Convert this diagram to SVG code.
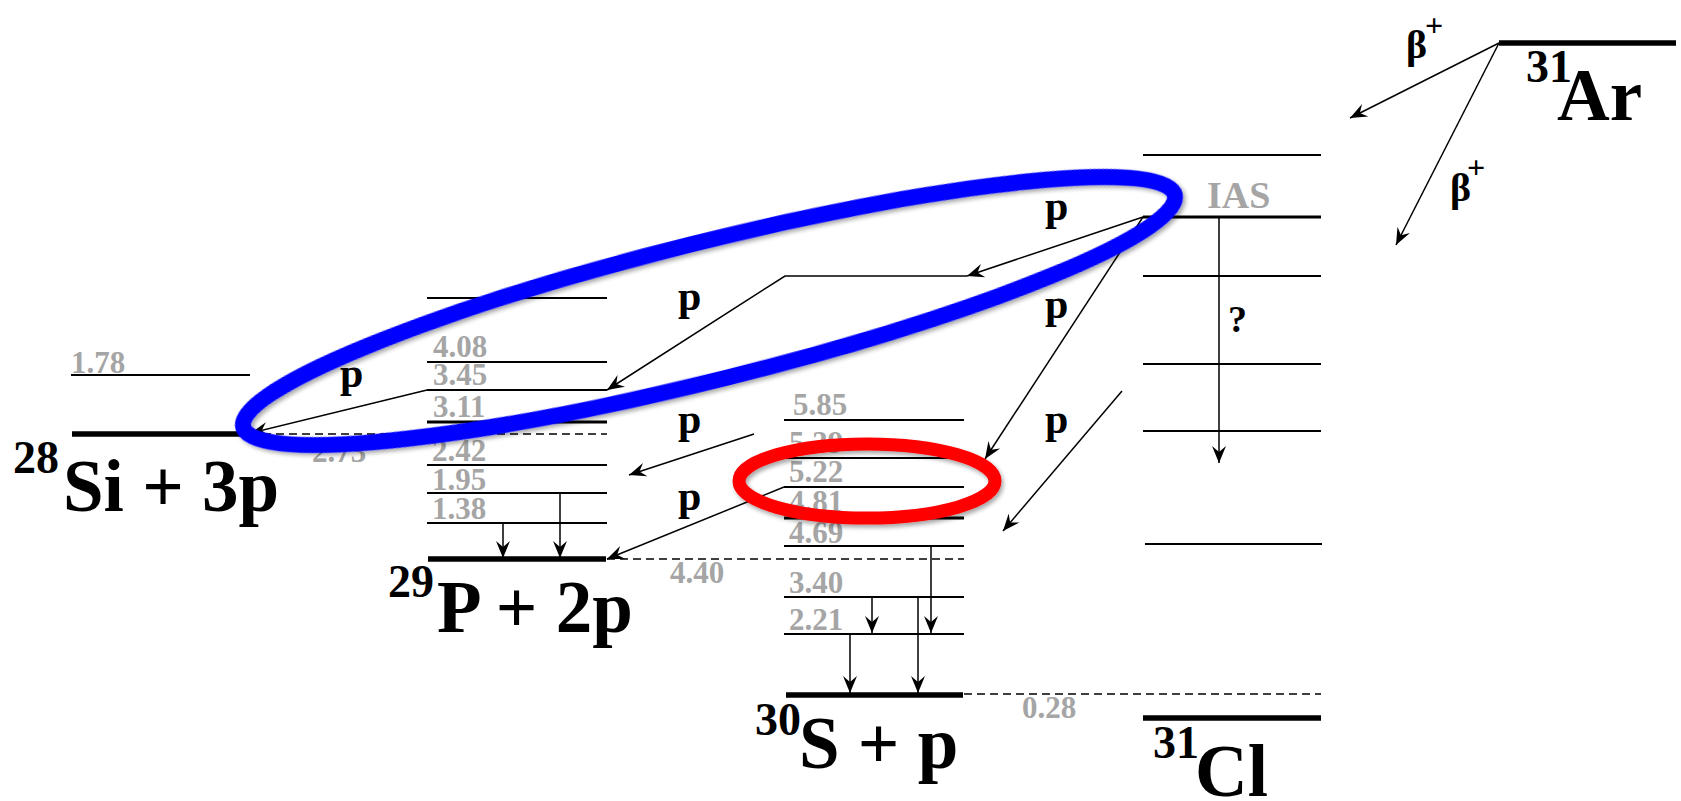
<svg xmlns="http://www.w3.org/2000/svg" width="1681" height="801" viewBox="0 0 1681 801">
<style>
.lv{stroke:#000;stroke-width:2;fill:none}
.lvm{stroke:#000;stroke-width:3;fill:none}
.lvt{stroke:#000;stroke-width:5.5;fill:none}
.dash{stroke:#000;stroke-width:1.6;stroke-dasharray:8 5;fill:none}
.val{font-family:"Liberation Serif",serif;font-weight:bold;font-size:31px;fill:#a5a5a5}
.big{font-family:"Liberation Serif",serif;font-weight:bold;font-size:73px;fill:#000}
.sup{font-family:"Liberation Serif",serif;font-weight:bold;font-size:46px;fill:#000}
.pl{font-family:"Liberation Serif",serif;font-weight:bold;font-size:42px;fill:#000}
.beta{font-family:"Liberation Serif",serif;font-weight:bold;font-size:40px;fill:#000}
.bsup{font-family:"Liberation Serif",serif;font-weight:bold;font-size:32px;fill:#000}
.cn{stroke:#000;stroke-width:1.5;fill:none;marker-end:url(#ah)}
.ring{fill:none;filter:url(#sh)}
</style>
<defs>
<marker id="ah" viewBox="-18 -9 20 18" refX="0" refY="0" markerWidth="20" markerHeight="18" orient="auto" markerUnits="userSpaceOnUse">
<path d="M0,0 L-17,-7 L-11,0 L-17,7 Z" fill="#000"/>
</marker>
<filter id="sh" x="-10%" y="-30%" width="120%" height="160%">
<feDropShadow dx="2" dy="3" stdDeviation="2" flood-color="#000" flood-opacity="0.35"/>
</filter>
</defs>

<g id="si-column">
<line class="lv" x1="71" y1="375" x2="250" y2="375"/>
<line class="lvt" x1="72" y1="434" x2="250" y2="434"/>
<text class="val" x="71" y="373">1.78</text>
<text class="val" x="312" y="462">2.73</text>
<text class="sup" x="13" y="473">28</text>
<text class="big" x="63" y="511">Si + 3p</text>
</g>

<g id="p-column">
<line class="lv" x1="427" y1="298" x2="607" y2="298"/>
<line class="lv" x1="427" y1="362" x2="607" y2="362"/>
<line class="lv" x1="427" y1="390" x2="607" y2="390"/>
<line class="lvm" x1="427" y1="422" x2="607" y2="422"/>
<line class="lv" x1="427" y1="465" x2="607" y2="465"/>
<line class="lv" x1="427" y1="493" x2="607" y2="493"/>
<line class="lv" x1="427" y1="523" x2="607" y2="523"/>
<line class="lvt" x1="428" y1="559" x2="606" y2="559"/>
<text class="val" x="433" y="357">4.08</text>
<text class="val" x="433" y="385">3.45</text>
<text class="val" x="433" y="417">3.11</text>
<text class="val" x="432" y="461">2.42</text>
<text class="val" x="432" y="490">1.95</text>
<text class="val" x="432" y="519">1.38</text>
<text class="val" x="670" y="583">4.40</text>
<text class="sup" x="388" y="597">29</text>
<text class="big" x="437" y="632">P + 2p</text>
</g>

<g id="s-column">
<line class="lv" x1="784" y1="420" x2="964" y2="420"/>
<line class="lv" x1="784" y1="458" x2="964" y2="458"/>
<line class="lv" x1="784" y1="487" x2="964" y2="487"/>
<line class="lvm" x1="784" y1="518" x2="964" y2="518"/>
<line class="lv" x1="784" y1="546" x2="964" y2="546"/>
<line class="lv" x1="784" y1="597" x2="964" y2="597"/>
<line class="lv" x1="784" y1="634" x2="964" y2="634"/>
<line class="lvt" x1="786" y1="695" x2="963" y2="695"/>
<text class="val" x="793" y="415">5.85</text>
<text class="val" x="789" y="453">5.39</text>
<text class="val" x="789" y="482">5.22</text>
<text class="val" x="789" y="512">4.81</text>
<text class="val" x="789" y="543">4.69</text>
<text class="val" x="789" y="593">3.40</text>
<text class="val" x="789" y="630">2.21</text>
<text class="val" x="1022" y="718">0.28</text>
<text class="sup" x="755" y="735">30</text>
<text class="big" x="799" y="768">S + p</text>
</g>

<g id="cl-column">
<line class="lv" x1="1143" y1="155" x2="1321" y2="155"/>
<line class="lvm" x1="1143" y1="217" x2="1321" y2="217"/>
<line class="lv" x1="1143" y1="276" x2="1321" y2="276"/>
<line class="lv" x1="1143" y1="364" x2="1321" y2="364"/>
<line class="lv" x1="1143" y1="431" x2="1321" y2="431"/>
<line class="lv" x1="1145" y1="544" x2="1322" y2="544"/>
<line class="lvt" x1="1143" y1="718" x2="1321" y2="718"/>
<text class="val" x="1207" y="208" style="font-size:38px">IAS</text>
<text class="sup" x="1153" y="758">31</text>
<text class="big" x="1195" y="796">Cl</text>
</g>

<g id="ar-level">
<line class="lvt" x1="1499" y1="43" x2="1676" y2="43"/>
<text class="sup" x="1526" y="82">31</text>
<text class="big" x="1557" y="120">Ar</text>
</g>

<g id="thresholds">
<line class="dash" x1="250" y1="434" x2="607" y2="434"/>
<line class="dash" x1="607" y1="559" x2="964" y2="559"/>
<line class="dash" x1="964" y1="694" x2="1321" y2="694"/>
</g>

<g id="connectors">
<line class="cn" x1="1499" y1="43" x2="1350" y2="118"/>
<line class="cn" x1="1499" y1="43" x2="1396" y2="245"/>
<line class="cn" x1="1143" y1="217" x2="967" y2="276"/>
<polyline class="cn" points="967,276 785,276 607,390"/>
<line class="cn" x1="1143" y1="217" x2="985" y2="459"/>
<line class="cn" x1="1122" y1="391" x2="1003" y2="531"/>
<line class="cn" x1="754" y1="434" x2="629" y2="475"/>
<line class="cn" x1="784" y1="487" x2="607" y2="559"/>
<line class="cn" x1="427" y1="390" x2="251" y2="433"/>
<line class="cn" x1="560" y1="493" x2="560" y2="558"/>
<line class="cn" x1="503" y1="523" x2="503" y2="558"/>
<line class="cn" x1="931" y1="546" x2="931" y2="633"/>
<line class="cn" x1="872" y1="597" x2="872" y2="633"/>
<line class="cn" x1="918" y1="597" x2="918" y2="693"/>
<line class="cn" x1="850" y1="634" x2="850" y2="693"/>
<line class="cn" x1="1219" y1="217" x2="1219" y2="463"/>
</g>

<g id="labels">
<text class="pl" x="340" y="387">p</text>
<text class="pl" x="678" y="310">p</text>
<text class="pl" x="678" y="433">p</text>
<text class="pl" x="678" y="510">p</text>
<text class="pl" x="1045" y="220">p</text>
<text class="pl" x="1045" y="318">p</text>
<text class="pl" x="1045" y="433">p</text>
<text class="pl" x="1228" y="332" style="font-size:38px">?</text>
<text class="beta" x="1406" y="58">β</text>
<text class="bsup" x="1425" y="36">+</text>
<text class="beta" x="1450" y="201">β</text>
<text class="bsup" x="1467" y="178">+</text>
</g>

<g id="highlights">
<ellipse class="ring" cx="709" cy="311" rx="480" ry="69" transform="rotate(-14 709 311)" stroke="#0000ff" stroke-width="16"/>
<ellipse class="ring" cx="867" cy="481" rx="128" ry="37" stroke="#ff0000" stroke-width="13"/>
</g>
</svg>
